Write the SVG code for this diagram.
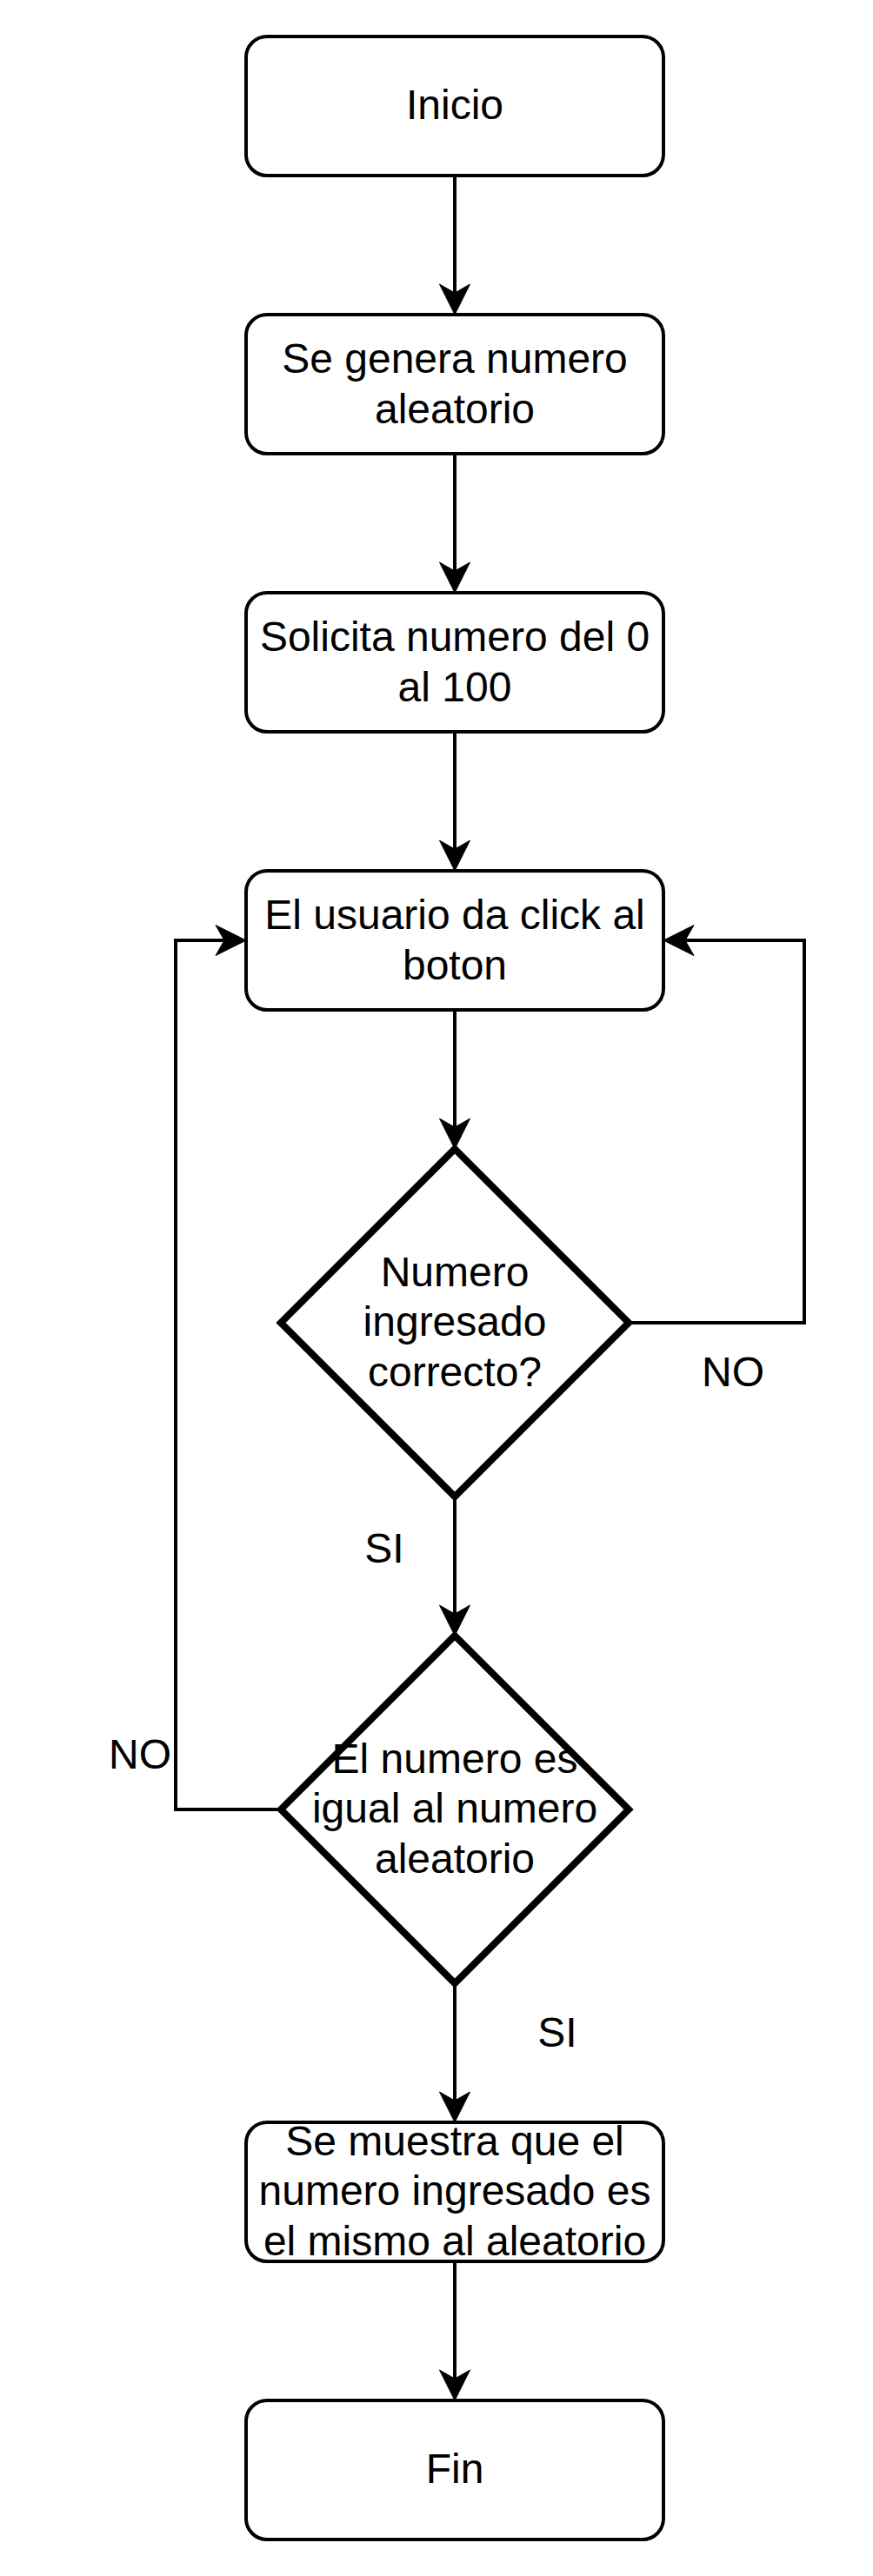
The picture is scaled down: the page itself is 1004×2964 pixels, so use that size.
<svg xmlns="http://www.w3.org/2000/svg" width="1004" height="2964" viewBox="0 0 1004 2964">
<style>
.box{fill:#fff;stroke:#000;stroke-width:4}
.dia{fill:#fff;stroke:#000;stroke-width:8;stroke-linejoin:miter}
.edge{fill:none;stroke:#000;stroke-width:4}
.t{font-family:"Liberation Sans",Arial,Helvetica,sans-serif;font-size:48px;fill:#000;text-anchor:middle}
</style>
<defs>
<marker id="arr" markerUnits="userSpaceOnUse" viewBox="-26 -18 37 36" markerWidth="37" markerHeight="36" refX="0" refY="0" orient="auto">
<path d="M10,0 L-25,-17.5 L-15,0 L-25,17.5 Z" fill="#000" stroke="#000" stroke-width="1"/>
</marker>
</defs>
<rect width="1004" height="2964" fill="#fff"/>
<g id="connectors">
<path class="edge" d="M523,202 L523,352" marker-end="url(#arr)"/>
<path class="edge" d="M523,522 L523,672" marker-end="url(#arr)"/>
<path class="edge" d="M523,842 L523,992" marker-end="url(#arr)"/>
<path class="edge" d="M523,1162 L523,1312" marker-end="url(#arr)"/>
<path class="edge" d="M523,1722 L523,1872" marker-end="url(#arr)"/>
<path class="edge" d="M523,2282 L523,2432" marker-end="url(#arr)"/>
<path class="edge" d="M523,2602 L523,2752" marker-end="url(#arr)"/>
<path class="edge" d="M723,1522 L925,1522 L925,1082 L773,1082" marker-end="url(#arr)"/>
<path class="edge" d="M323,2082 L202,2082 L202,1082 L273,1082" marker-end="url(#arr)"/>
<text class="t" x="843" y="1595">NO</text>
<text class="t" x="442" y="1798">SI</text>
<text class="t" x="161" y="2035">NO</text>
<text class="t" x="641" y="2355">SI</text>
</g>
<g id="inicio">
<rect class="box" x="283" y="42" width="480" height="160" rx="24" ry="24"/>
<text class="t" x="523" y="137">Inicio</text>
</g>
<g id="genera">
<rect class="box" x="283" y="362" width="480" height="160" rx="24" ry="24"/>
<text class="t" x="523" y="429">Se genera numero</text>
<text class="t" x="523" y="487">aleatorio</text>
</g>
<g id="solicita">
<rect class="box" x="283" y="682" width="480" height="160" rx="24" ry="24"/>
<text class="t" x="523" y="749">Solicita numero del 0</text>
<text class="t" x="523" y="807">al 100</text>
</g>
<g id="click">
<rect class="box" x="283" y="1002" width="480" height="160" rx="24" ry="24"/>
<text class="t" x="523" y="1069">El usuario da click al</text>
<text class="t" x="523" y="1127">boton</text>
</g>
<g id="decision1">
<polygon class="dia" points="523,1322 723,1522 523,1722 323,1522"/>
<text class="t" x="523" y="1480">Numero</text>
<text class="t" x="523" y="1537">ingresado</text>
<text class="t" x="523" y="1595">correcto?</text>
</g>
<g id="decision2">
<polygon class="dia" points="523,1882 723,2082 523,2282 323,2082"/>
<text class="t" x="523" y="2040">El numero es</text>
<text class="t" x="523" y="2097">igual al numero</text>
<text class="t" x="523" y="2155">aleatorio</text>
</g>
<g id="muestra">
<rect class="box" x="283" y="2442" width="480" height="160" rx="24" ry="24"/>
<text class="t" x="523" y="2480">Se muestra que el</text>
<text class="t" x="523" y="2537">numero ingresado es</text>
<text class="t" x="523" y="2595">el mismo al aleatorio</text>
</g>
<g id="fin">
<rect class="box" x="283" y="2762" width="480" height="160" rx="24" ry="24"/>
<text class="t" x="523" y="2857">Fin</text>
</g>
</svg>
